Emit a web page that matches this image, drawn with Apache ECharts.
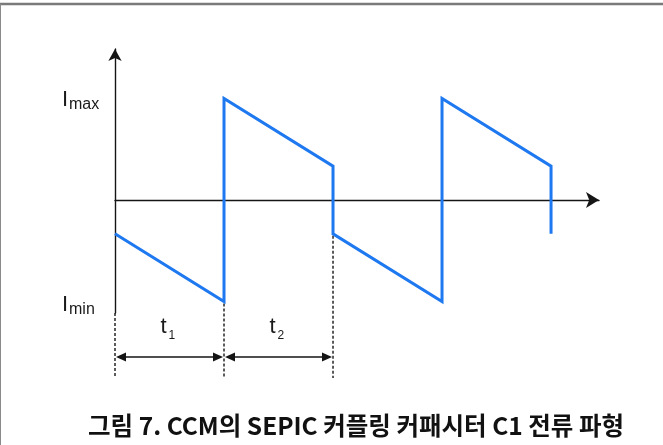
<!DOCTYPE html>
<html>
<head>
<meta charset="utf-8">
<script src="https://cdn.jsdelivr.net/npm/echarts@6/dist/echarts.min.js"></script>
<style>
  html, body { margin: 0; padding: 0; background: #fff; }
  #chart { width: 663px; height: 445px; }
</style>
</head>
<body>
<div id="chart"></div>
<script>
// Switching instants along the time axis (t1 and t2 are each one unit long)
const phaseTimes = [0, 1, 2];
// Coupling-capacitor current in CCM: sample times and current levels
const currentTime  = [0, 1, 1, 2, 2, 3, 3, 4, 4];
const currentValue = [-1, -3, 3, 1, -1, -3, 3, 1, -1];
// Peak levels marked on the current axis
const levelValues = [3, -3];
const levelSubs = ['max', 'min'];
// Interval names written above the dimension arrows
const intervalSubs = ['1', '2'];
const captionText = '그림 7. CCM의 SEPIC 커플링 커패시터 C1 전류 파형';

const INK = '#151515';
const BLUE = '#1e78f0';
const LATIN = '"Liberation Sans", Arial, sans-serif';

const chart = echarts.init(document.getElementById('chart'), null, { renderer: 'canvas' });

chart.setOption({
  animation: false,
  backgroundColor: '#fff',
  grid: { left: 115, top: 49, width: 484, height: 264 },
  xAxis: {
    type: 'value', min: 0, max: 4.44,
    axisLine: { onZero: true, symbol: ['none', 'arrow'], symbolSize: [12, 13],
                lineStyle: { color: INK, width: 1.4 } },
    axisTick: { show: false }, axisLabel: { show: false }, splitLine: { show: false }
  },
  yAxis: {
    type: 'value', min: -3.34, max: 4.46,
    axisLine: { show: true, onZero: false, symbol: ['none', 'arrow'], symbolSize: [10, 12],
                lineStyle: { color: INK, width: 1.4 } },
    axisTick: { show: false }, axisLabel: { show: false }, splitLine: { show: false }
  },
  series: [{
    type: 'line',
    data: currentTime.map((t, i) => [t, currentValue[i]]),
    symbol: 'none',
    clip: false,
    lineStyle: { color: BLUE, width: 3, join: 'miter' },
    z: 5
  }]
});

const px = (t, v) => chart.convertToPixel({ gridIndex: 0 }, [t, v]);
const graphics = [];

function label(x, y, text, size) {
  return { type: 'text', x: x, y: y,
    style: { text: text, font: size + 'px ' + LATIN, fill: '#1a1a1a',
             textAlign: 'left', textVerticalAlign: 'middle' } };
}

// Frame lines along the top and left edges
graphics.push({ type: 'line', shape: { x1: 0, y1: 4, x2: 663, y2: 4 },
  style: { stroke: '#7a7a7a', lineWidth: 2.5 } });
graphics.push({ type: 'line', shape: { x1: 0.5, y1: 4, x2: 0.5, y2: 445 },
  style: { stroke: '#8a8a8a', lineWidth: 1 } });

// Dashed drop lines from each switching instant to the dimension row
const dimY = 357;
const dropBottom = 378;
phaseTimes.forEach((t, i) => {
  const x = px(t, 0)[0];
  let top;
  if (i === 0) top = px(0, -3.34)[1];
  else {
    // start where the waveform makes its vertical step at this instant
    const idx = currentTime.indexOf(t);
    const low = Math.min(currentValue[idx], currentValue[idx + 1]);
    top = px(t, low)[1] + 2;
  }
  graphics.push({ type: 'line', shape: { x1: x, y1: top, x2: x, y2: dropBottom },
    style: { stroke: '#333', lineWidth: 1.6, lineDash: [3, 2] } });
});

// Double-headed dimension arrows for t1 and t2
function arrowHead(tipX, y, dir) {
  const L = 10, W = 4.5;
  return { type: 'polygon', shape: { points: [[tipX, y], [tipX - dir * L, y - W], [tipX - dir * L, y + W]] },
    style: { fill: INK } };
}
for (let i = 0; i < phaseTimes.length - 1; i++) {
  const xa = px(phaseTimes[i], 0)[0];
  const xb = px(phaseTimes[i + 1], 0)[0];
  graphics.push({ type: 'line', shape: { x1: xa + 3, y1: dimY, x2: xb - 3, y2: dimY },
    style: { stroke: INK, lineWidth: 1.6 } });
  graphics.push(arrowHead(xa + 1, dimY, -1));
  graphics.push(arrowHead(xb - 1, dimY, 1));
  const cx = (xa + xb) / 2;
  graphics.push(label(cx - 9, 327, 't', 22));
  graphics.push(label(cx - 1, 336, intervalSubs[i], 12));
}

// I_max / I_min labels beside the current axis
levelValues.forEach((v, i) => {
  const y = px(0, v)[1];
  const c = y + (i === 0 ? 1.5 : 3);
  graphics.push(label(62, c, 'I', 22));
  graphics.push(label(69, c + 5, levelSubs[i], 16));
});

// Figure caption
graphics.push({ type: 'text', x: 356, y: 426,
  style: { text: captionText, font: 'bold 24.5px "Noto Sans CJK KR", sans-serif', fill: '#111',
           textAlign: 'center', textVerticalAlign: 'middle' } });

chart.setOption({ graphic: graphics });
</script>
</body>
</html>
